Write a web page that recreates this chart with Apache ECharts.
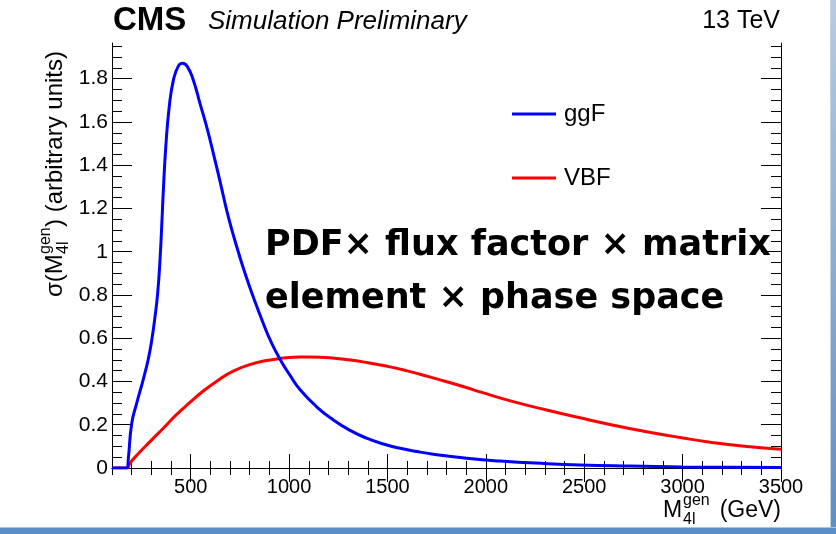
<!DOCTYPE html>
<html>
<head>
<meta charset="utf-8">
<script src="https://cdn.jsdelivr.net/npm/echarts@6/dist/echarts.min.js"></script>
<style>
  html, body { margin: 0; padding: 0; background: #fff; }
  #chart { width: 836px; height: 534px; }
</style>
</head>
<body>
<div id="chart"></div>
<script>
// Generated four-lepton mass (GeV) and cross section (arbitrary units), gluon fusion
const massGgF = [100, 176, 183, 200, 225, 259, 285, 302, 319, 332, 344, 353, 361, 374, 391, 412, 437, 459, 483, 513, 547, 581, 615, 649, 691, 734, 776, 818, 869, 912, 959, 1005, 1055, 1140, 1225, 1310, 1394, 1479, 1564, 1650, 1733, 1903, 2072, 2309, 2478, 2733, 3000, 3250, 3500];
const xsecGgF = [0, 0, 0.043, 0.205, 0.298, 0.410, 0.506, 0.591, 0.702, 0.807, 0.963, 1.125, 1.285, 1.493, 1.671, 1.793, 1.858, 1.871, 1.856, 1.794, 1.686, 1.578, 1.455, 1.325, 1.162, 1.023, 0.900, 0.791, 0.668, 0.576, 0.495, 0.428, 0.363, 0.283, 0.222, 0.174, 0.138, 0.111, 0.091, 0.076, 0.064, 0.045, 0.032, 0.020, 0.014, 0.009, 0.005, 0.003, 0.002];

// Vector boson fusion
const massVBF = [100, 176, 191, 225, 293, 361, 429, 496, 564, 649, 716, 800, 886, 959, 1055, 1100, 1157, 1300, 1400, 1500, 1600, 1700, 1800, 1900, 1970, 2139, 2309, 2478, 2648, 2817, 2987, 3156, 3326, 3500];
const xsecVBF = [0, 0, 0.022, 0.058, 0.122, 0.184, 0.248, 0.303, 0.356, 0.412, 0.448, 0.478, 0.497, 0.507, 0.513, 0.513, 0.512, 0.500, 0.487, 0.470, 0.449, 0.425, 0.399, 0.372, 0.352, 0.307, 0.268, 0.232, 0.198, 0.168, 0.141, 0.117, 0.099, 0.087];

const seriesNames = ['ggF', 'VBF'];
const seriesColors = ['#0000ff', '#ff0000'];

// Axis ranges and tick labels
const xRange = [100, 3500];
const yRange = [0, 1.965];
const xTickLabels = [500, 1000, 1500, 2000, 2500, 3000, 3500];
const yTickLabels = [0, 0.2, 0.4, 0.6, 0.8, 1, 1.2, 1.4, 1.6, 1.8];

// minor tick positions
const xMinorTicks = [];
for (let v = 100; v <= 3500; v += 100) xMinorTicks.push(v);
const yMinorTicks = [];
for (let i = 0; i * 0.05 <= 1.95 + 1e-9; i++) yMinorTicks.push(+(i * 0.05).toFixed(2));

const FONT = '"Liberation Sans", Arial, Helvetica, sans-serif';

function pairs(xs, ys) { return xs.map((x, i) => [x, ys[i]]); }

const axisLineStyle = { show: true, lineStyle: { color: '#000', width: 1 } };

function xAxisDef(pos, major, withLabels) {
  return {
    type: 'value', position: pos, min: xRange[0], max: xRange[1],
    gridIndex: 0,
    axisLine: major ? axisLineStyle : { show: false },
    splitLine: { show: false },
    axisTick: {
      show: true, inside: true, length: major ? 14 : 7,
      customValues: major ? xTickLabels : xMinorTicks,
      lineStyle: { color: '#000', width: 1 }
    },
    axisLabel: withLabels ? {
      show: true, customValues: xTickLabels, margin: 9,
      formatter: (v) => String(v),
      fontFamily: FONT, fontSize: 20, color: '#000'
    } : { show: false }
  };
}

function yAxisDef(pos, major, withLabels) {
  return {
    type: 'value', position: pos, min: yRange[0], max: yRange[1],
    gridIndex: 0,
    axisLine: major ? axisLineStyle : { show: false },
    splitLine: { show: false },
    axisTick: {
      show: true, inside: true, length: major ? 20 : 10,
      customValues: major ? yTickLabels : yMinorTicks,
      lineStyle: { color: '#000', width: 1 }
    },
    axisLabel: withLabels ? {
      show: true, customValues: yTickLabels, margin: 4,
      formatter: (v) => String(v),
      fontFamily: FONT, fontSize: 21, color: '#000'
    } : { show: false }
  };
}

const chart = echarts.init(document.getElementById('chart'), null, { renderer: 'canvas' });

chart.setOption({
  animation: false,
  backgroundColor: '#ffffff',
  grid: { left: 112, right: 55, top: 43, bottom: 66 },
  xAxis: [
    xAxisDef('bottom', true, true),
    xAxisDef('bottom', false, false),
    xAxisDef('top', true, false),
    xAxisDef('top', false, false)
  ],
  yAxis: [
    yAxisDef('left', true, true),
    yAxisDef('left', false, false),
    yAxisDef('right', true, false),
    yAxisDef('right', false, false)
  ],
  legend: {
    orient: 'vertical',
    left: 507, top: 97,
    icon: 'rect',
    itemWidth: 44, itemHeight: 3,
    itemGap: 40,
    textStyle: { fontFamily: FONT, fontSize: 24, color: '#000' },
    data: [
      { name: seriesNames[0], textStyle: { padding: [16, 0, 0, 3] } },
      { name: seriesNames[1], textStyle: { padding: [4, 0, 0, 3] } }
    ]
  },
  series: [
    {
      name: seriesNames[0], type: 'line', xAxisIndex: 0, yAxisIndex: 0,
      data: pairs(massGgF, xsecGgF),
      showSymbol: false, smooth: 0.5,
      lineStyle: { color: seriesColors[0], width: 3 },
      itemStyle: { color: seriesColors[0] }, z: 3
    },
    {
      name: seriesNames[1], type: 'line', xAxisIndex: 0, yAxisIndex: 0,
      data: pairs(massVBF, xsecVBF),
      showSymbol: false, smooth: 0.5,
      lineStyle: { color: seriesColors[1], width: 3 },
      itemStyle: { color: seriesColors[1] }, z: 2
    }
  ],
  graphic: [
    // header
    { type: 'text', left: 113, top: 4, style: { text: 'CMS', font: 'bold 33px ' + FONT, fill: '#000' } },
    { type: 'text', left: 208, top: 9, style: { text: 'Simulation Preliminary', font: 'italic 26px ' + FONT, fill: '#000' } },
    { type: 'text', right: 56, top: 9, style: { text: '13 TeV', font: '25px ' + FONT, fill: '#000' } },
    // y-axis title, reading upwards
    {
      type: 'group', x: 55, y: 297, rotation: Math.PI / 2,
      children: [
        { type: 'text', x: 0, y: 0, style: { text: 'σ(M', font: '24px ' + FONT, fill: '#000', verticalAlign: 'middle' } },
        { type: 'text', x: 43, y: -9, style: { text: 'gen', font: '16px ' + FONT, fill: '#000', verticalAlign: 'middle' } },
        { type: 'text', x: 43, y: 9, style: { text: '4l', font: '16px ' + FONT, fill: '#000', verticalAlign: 'middle' } },
        { type: 'text', x: 70, y: 0, style: { text: ') (arbitrary units)', font: '24px ' + FONT, fill: '#000', verticalAlign: 'middle' } }
      ]
    },
    // x-axis title
    {
      type: 'group', x: 663, y: 511,
      children: [
        { type: 'text', x: 0, y: 0, style: { text: 'M', font: '23px ' + FONT, fill: '#000', verticalAlign: 'middle' } },
        { type: 'text', x: 20, y: -10, style: { text: 'gen', font: '16px ' + FONT, fill: '#000', verticalAlign: 'middle' } },
        { type: 'text', x: 20, y: 9, style: { text: '4l', font: '16px ' + FONT, fill: '#000', verticalAlign: 'middle' } }
      ]
    },
    { type: 'text', x: 781, y: 511, style: { text: '(GeV)', font: '23px ' + FONT, fill: '#000', align: 'right', verticalAlign: 'middle' } },
    // annotation
    {
      type: 'text', x: 265, y: 246, z: 10,
      style: { text: 'PDF× flux factor × matrix', font: 'bold 35px "DejaVu Sans", sans-serif', fill: '#000', verticalAlign: 'middle' }
    },
    {
      type: 'text', x: 265, y: 299, z: 10,
      style: { text: 'element × phase space', font: 'bold 35px "DejaVu Sans", sans-serif', fill: '#000', verticalAlign: 'middle' }
    },
    // page frame
    { type: 'rect', shape: { x: 830, y: 0, width: 1, height: 534 }, style: { fill: '#c3d3e4' } },
    {
      type: 'rect', shape: { x: 831, y: 0, width: 5, height: 534 },
      style: { fill: new echarts.graphic.LinearGradient(0, 0, 0, 1, [{ offset: 0, color: '#b9cbe0' }, { offset: 1, color: '#5a8ec8' }]) }
    },
    { type: 'rect', shape: { x: 0, y: 527, width: 836, height: 1 }, style: { fill: '#a9c4e2' } },
    { type: 'rect', shape: { x: 0, y: 528, width: 836, height: 6 }, style: { fill: '#5a8ec8' } }
  ]
});
</script>
</body>
</html>
